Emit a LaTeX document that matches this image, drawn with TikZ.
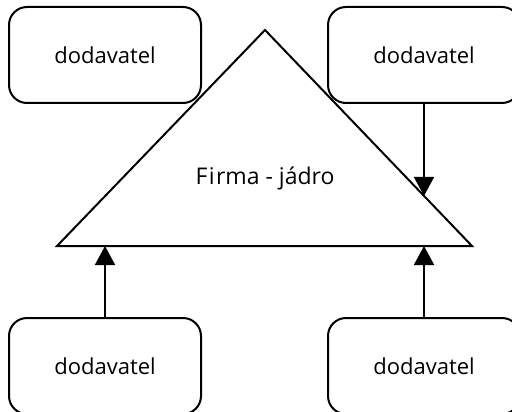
\documentclass[tikz,border=0pt]{standalone}
\usepackage{fontspec}
\setmainfont{Open Sans}
\usetikzlibrary{arrows.meta,calc}
\tikzset{
  supplier/.style={draw, line width=1pt, rounded corners=9pt, fill=white,
    minimum width=96pt, minimum height=48pt, inner sep=0pt, font=\fontsize{11}{13}\selectfont},
  core/.style={draw, line width=1pt, line join=miter},
  flow/.style={draw, line width=1pt, -{Triangle[length=9.5pt, width=10pt]}}
}
\begin{document}
\begin{tikzpicture}[x=0.5pt, y=-0.5pt]
    \useasboundingbox (0,0) rectangle (512,411);
    % jadro
    \coordinate (apex) at (265,30);
    \coordinate (baseL) at (57,246);
    \coordinate (baseR) at (472,246);
    \draw[core] (apex) -- (baseR) -- (baseL) -- cycle;
    \node[font=\fontsize{11.5}{13}\selectfont] (firma) at (265,178) {F\kern0.8pt i\kern0.6pt rma - jádro};
    % dodavatele
    \node[supplier] (tl) at (105,55) {dodavatel};
    \node[supplier] (tr) at (424,55) {dodavatel};
    \node[supplier] (bl) at (105,366) {dodavatel};
    \node[supplier] (br) at (424,366) {dodavatel};
    % sipky
    \coordinate (hit) at ($(apex)!0.768!(baseR)$);
    \draw[flow] (tr.south) -- (tr |- hit);
    \draw[flow] (bl.north) -- (bl |- baseL);
    \draw[flow] (br.north) -- (br |- baseR);
  \end{tikzpicture}
\end{document}
